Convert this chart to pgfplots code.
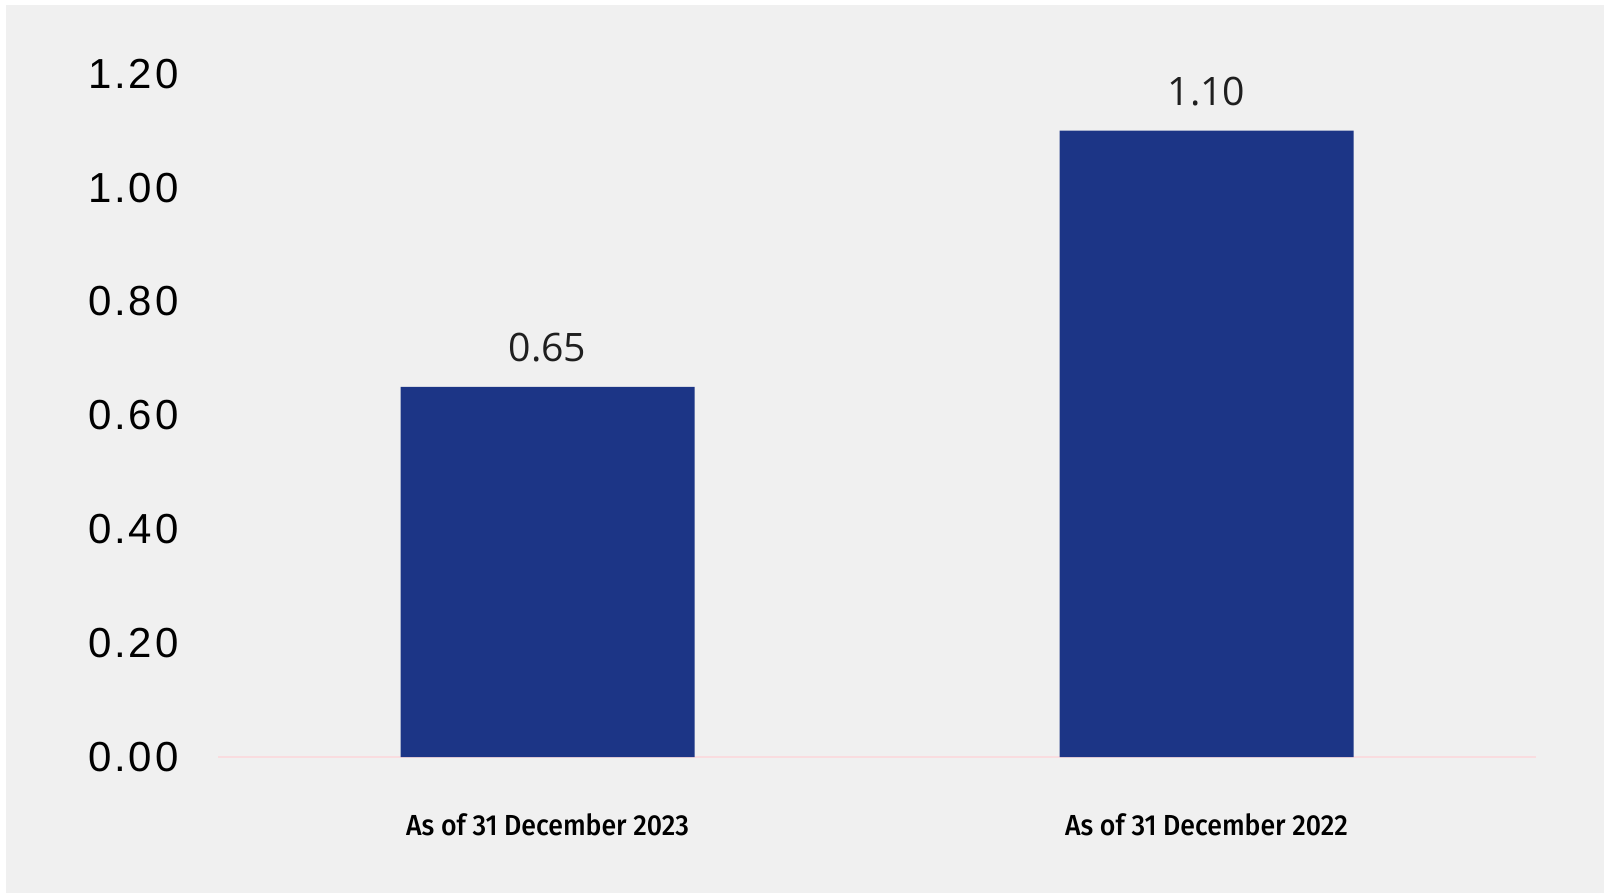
\documentclass[border=0pt]{standalone}
\usepackage{pgfplots}
\pgfplotsset{compat=1.18}
\usepackage{fontspec}
\setmainfont{Liberation Sans}
\newfontfamily\tickfont[LetterSpace=7]{Liberation Sans}
\newfontfamily\valfont{Open Sans}
\newfontfamily\xfont[FakeStretch=0.92]{Fira Sans Medium}
\definecolor{bg}{HTML}{F0F0F0}
\definecolor{barblue}{HTML}{1C3586}
\definecolor{basepink}{HTML}{F9DCDF}
\begin{document}
\begin{tikzpicture}
\useasboundingbox (0,0) rectangle (802pt,-446.5pt);
\fill[white] (0,0) rectangle (802pt,-446.5pt);
\fill[bg] (3pt,-2.5pt) rectangle (802pt,-446.5pt);
\begin{axis}[
  at={(109pt,-378.5pt)}, anchor=south west,
  scale only axis, width=659pt, height=341.65pt,
  xmin=-0.5, xmax=1.5, ymin=0, ymax=1.2,
  axis line style={draw=none},
  tick style={draw=none},
  xtick=data,
  xticklabels={As of 31 December 2023, As of 31 December 2022},
  xticklabel style={font=\xfont\fontsize{14.5pt}{16pt}\selectfont, anchor=north, inner sep=0pt, yshift=-24pt},
  ytick={0,0.2,0.4,0.6,0.8,1.0,1.2},
  yticklabel style={font=\tickfont\fontsize{21pt}{24pt}\selectfont, anchor=east, inner sep=0pt, xshift=-19.5pt,
    /pgf/number format/.cd, fixed, fixed zerofill, precision=2, assume math mode=true},
  extra y ticks={0},
  extra y tick labels={},
  extra y tick style={grid=major, major grid style={draw=basepink, line width=1.2pt}},
  ybar, bar width=147pt,
  nodes near coords,
  nodes near coords style={font=\valfont\fontsize{19.6pt}{22pt}\selectfont, anchor=base, inner sep=0pt, yshift=12.5pt, text=black!88,
    /pgf/number format/.cd, fixed, fixed zerofill, precision=2, assume math mode=true},
  clip=false,
]
\addplot[fill=barblue, draw=none] coordinates {(0,0.65) (1,1.10)};
\end{axis}
\end{tikzpicture}
\end{document}
